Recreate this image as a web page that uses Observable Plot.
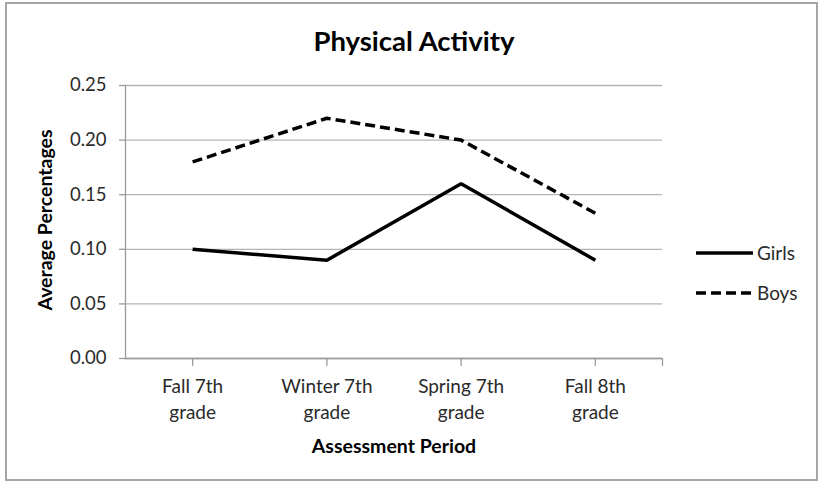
<!DOCTYPE html>
<html>
<head>
<meta charset="utf-8">
<script src="https://cdn.jsdelivr.net/npm/d3@7"></script>
<script src="https://cdn.jsdelivr.net/npm/@observablehq/plot@0.6"></script>
<style>
  body { margin: 0; background: #fff; }
  #wrap { position: relative; width: 821px; height: 483px; overflow: hidden; font-family: Lato, sans-serif; background: #fff; }
  #border { position: absolute; left: 5px; top: 2px; width: 813px; height: 479px; border: 2px solid #a6a6a6; box-sizing: border-box; pointer-events: none; }
  #chart { position: absolute; left: 0; top: 0; }
  #legend { position: absolute; left: 0; top: 0; pointer-events: none; }
</style>
</head>
<body>
<div id="wrap">
  <div id="chart"></div>
  <svg id="legend" width="821" height="483"></svg>
  <div id="border"></div>
</div>
<script>
const title = "Physical Activity";
const xLabel = "Assessment Period";
const yLabel = "Average Percentages";
const categories = ["Fall 7th\ngrade", "Winter 7th\ngrade", "Spring 7th\ngrade", "Fall 8th\ngrade"];
const girls = [0.10, 0.09, 0.16, 0.09];
const boys = [0.18, 0.22, 0.20, 0.133];
const yTicks = [0.00, 0.05, 0.10, 0.15, 0.20, 0.25];
const seriesNames = ["Girls", "Boys"];

const girlsData = girls.map((v, i) => ({i, value: v, series: "Girls"}));
const boysData = boys.map((v, i) => ({i, value: v, series: "Boys"}));
const xTickVals = categories.map((_, i) => i).concat([categories.length - 0.5]);

const fontFamily = "Lato, sans-serif";

const chart = Plot.plot({
  width: 821,
  height: 483,
  marginLeft: 125,
  marginRight: 159,
  marginTop: 85,
  marginBottom: 125,
  style: { fontFamily, background: "transparent", overflow: "visible" },
  x: { type: "linear", domain: [-0.5, categories.length - 0.5] },
  y: { domain: [0, 0.25] },
  marks: [
    Plot.gridY(yTicks, { stroke: "#b4b4b4", strokeOpacity: 1, strokeWidth: 1.3 }),
    Plot.ruleX([-0.5], { y1: 0, y2: 0.25, stroke: "#9a9a9a", strokeWidth: 1.3 }),
    Plot.ruleY([0], { stroke: "#9a9a9a", strokeWidth: 1.3 }),
    Plot.axisY({
      ticks: yTicks, tickFormat: d3.format(".2f"), tickSize: 6, tickPadding: 13,
      fontSize: 18.5, stroke: "#9a9a9a", strokeWidth: 1.3, color: "#2a2a2a", label: null
    }),
    Plot.axisX({
      ticks: xTickVals,
      tickFormat: d => Number.isInteger(d) ? categories[d] : "",
      tickSize: 8, tickPadding: 9, fontSize: 19, lineHeight: 1.33,
      stroke: "#9a9a9a", strokeWidth: 1.3, color: "#2a2a2a", label: null
    }),
    Plot.line(girlsData, { x: "i", y: "value", stroke: "#000", strokeWidth: 3.5, strokeLinejoin: "miter", strokeLinecap: "butt" }),
    Plot.line(boysData, { x: "i", y: "value", stroke: "#000", strokeWidth: 3.5, strokeDasharray: "10,5", strokeLinejoin: "miter", strokeLinecap: "butt" }),
    Plot.text([title], { frameAnchor: "top", lineAnchor: "middle", textAnchor: "middle", dy: -43, dx: 20, fontSize: 27.5, fontWeight: "bold", fill: "#000" }),
    Plot.text([yLabel], { frameAnchor: "left", lineAnchor: "middle", textAnchor: "middle", dx: -80, dy: -2, rotate: -90, fontSize: 19.5, fontWeight: "bold", fill: "#000" }),
    Plot.text([xLabel], { frameAnchor: "bottom", lineAnchor: "middle", textAnchor: "middle", dy: 88, fontSize: 19.5, fontWeight: "bold", fill: "#000" })
  ]
});
document.getElementById("chart").appendChild(chart);

// legend
const legend = d3.select("#legend");
const legendItems = [
  { name: seriesNames[0], dash: null },
  { name: seriesNames[1], dash: "10,5" }
];
legendItems.forEach((d, k) => {
  const y = 253 + k * 40;
  legend.append("line")
    .attr("x1", 696).attr("x2", 753).attr("y1", y).attr("y2", y)
    .attr("stroke", "#000").attr("stroke-width", 3.5)
    .attr("stroke-dasharray", d.dash);
  legend.append("text")
    .attr("x", 757).attr("y", y).attr("dy", "0.35em")
    .attr("font-family", fontFamily).attr("font-size", 19).attr("fill", "#2a2a2a")
    .text(d.name);
});
</script>
</body>
</html>
